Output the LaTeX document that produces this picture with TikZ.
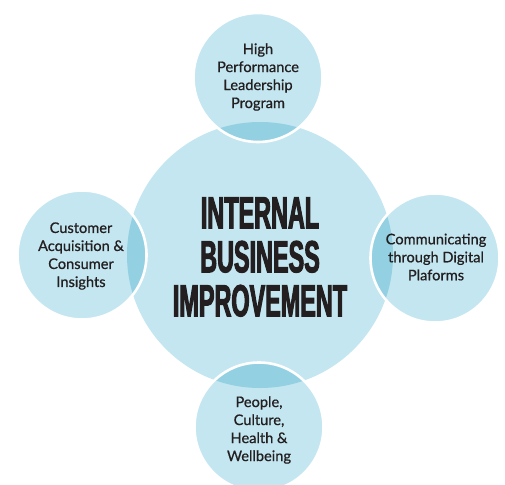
\documentclass[tikz,border=0pt]{standalone}
\usepackage{fontspec}
\setmainfont{Lato}
\newfontfamily\smallfont[FakeBold=0.7]{Lato}
\newfontfamily\titlefont[FakeStretch=0.52,FakeBold=2.2]{Liberation Sans Bold}
\definecolor{lightb}{HTML}{C3E6F0}
\definecolor{darkb}{HTML}{93D0E2}
\definecolor{txt}{HTML}{231F20}
\begin{document}
\begin{tikzpicture}[x=1pt,y=-1pt,
  smalltext/.style={align=center,text=txt,font=\smallfont\fontsize{14.6}{18}\selectfont},
  titletext/.style={align=center,text=txt,font=\titlefont\fontsize{45}{44}\selectfont}]
\useasboundingbox (0,0) rectangle (505,484);
\coordinate (C) at (260,255);
\def\bigr{133}
\fill[lightb] (C) circle (\bigr);
\foreach \n/\x/\y in {top/258/77.5, left/82/255, right/435/258, bottom/259/427}{
  \coordinate (\n) at (\x,\y);
  \fill[lightb] (\n) circle (64.5);
  \begin{scope}
    \clip (C) circle (\bigr);
    \fill[darkb] (\n) circle (64.5);
  \end{scope}
  \draw[white,line width=2.6pt] (\n) circle (64.5);
}
\node[titletext] (title) at (260,257) {INTERNAL\\BUSINESS\\IMPROVEMENT};
\node[smalltext] (ttop) at (258,77) {High\\Performance\\Leadership\\Program};
\node[smalltext] (tleft) at (81,256) {Customer\\Acquisition \&\\Consumer\\Insights};
\node[smalltext] (tright) at (436,257) {Communicating\\through Digital\\Plaforms};
\node[smalltext] (tbottom) at (259,430) {People,\\Culture,\\Health \&\\Wellbeing};
\end{tikzpicture}
\end{document}
